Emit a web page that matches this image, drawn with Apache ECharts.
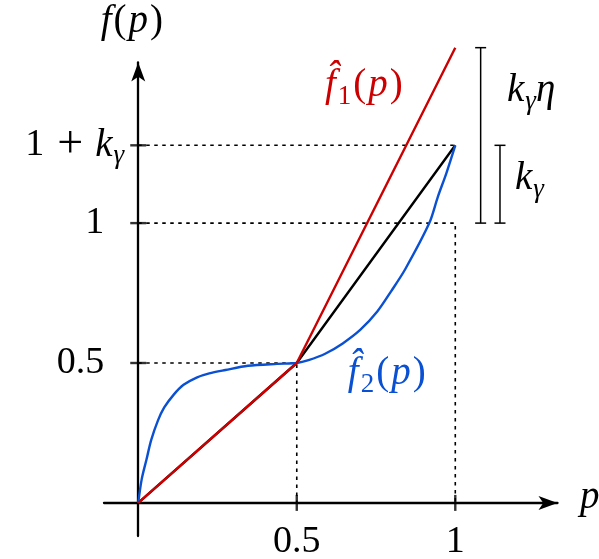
<!DOCTYPE html>
<html>
<head>
<meta charset="utf-8">
<script src="https://cdn.jsdelivr.net/npm/echarts@6/dist/echarts.min.js"></script>
<style>
html,body{margin:0;padding:0;background:#fff}
#main{width:599px;height:559px}
</style>
</head>
<body>
<div id="main"></div>
<script>
// values
var kGamma = 0.278;      // 1 + k_gamma tick
var kGammaEta = 0.627;   // red line rises 1 + k_gamma*eta at p = 1

var xTicks = [0.5, 1];
var xTickLabels = ['0.5', '1'];
var yTicks = [0.5, 1, 1 + kGamma];
var yTickLabels = ['{rp|0.5}', '{rp|1}', '{r|1}{pl|+}{m|k}{s|γ}'];

var linearPts = [[0, 0], [0.5, 0.5], [1, 1 + kGamma]];
var f1Pts = [[0, 0], [0.5, 0.5], [1, 1 + kGammaEta]];
var f2Pts = [
    [0, 0], [0.011, 0.085], [0.026, 0.155], [0.041, 0.225], [0.062, 0.294],
    [0.082, 0.341], [0.112, 0.387], [0.143, 0.422], [0.184, 0.448], [0.224, 0.463],
    [0.275, 0.475], [0.346, 0.490], [0.438, 0.497], [0.5, 0.5],
    [0.537, 0.510], [0.591, 0.534], [0.645, 0.570], [0.700, 0.618], [0.754, 0.684],
    [0.798, 0.757], [0.842, 0.835], [0.918, 1.0], [0.945, 1.094], [0.972, 1.179],
    [1, 1 + kGamma]
];

// dotted helper lines
var guides = [
    [[0, 1 + kGamma], [1, 1 + kGamma]],
    [[0, 1], [1, 1], [1, 0]],
    [[0, 0.5], [0.5, 0.5], [0.5, 0]]
];

// brackets: x, from, to
var brackets = [[1.080, 1, 1 + kGammaEta], [1.141, 1, 1 + kGamma]];

// text notes: x, y, text, colour, align
var notes = [
    [-0.017, 1.719, '{m|f}{q|(}{m|p}{q|)}', '#000', 'center'],
    [1.393, 0.019, '{m|p}', '#000', 'left'],
    [0.589, 1.490, '{m|f\u0302}{sn|1}{q|(}{m|p}{q|)}', '#cc0000', 'left'],
    [0.661, 0.461, '{m|f\u0302}{sn|2}{q|(}{m|p}{q|)}', '#0a50d2', 'left'],
    [1.163, 1.472, '{m|k}{s|γ}{m|η}', '#000', 'left'],
    [1.188, 1.158, '{m|k}{s|γ}', '#000', 'left']
];

var F = '"Liberation Serif"';
var rich = {
    m: {font: 'italic 39px ' + F, lineHeight: 46},
    r: {font: '38px ' + F, lineHeight: 46},
    q: {font: '39px ' + F, lineHeight: 46, padding: [0, 2, 0, 2]},
    pl: {font: '46px ' + F, lineHeight: 46, padding: [0, 12, 0, 13]},
    rp: {font: '38px ' + F, lineHeight: 46, padding: [0, 20, 0, 0]},
    s: {font: 'italic 27px ' + F, lineHeight: 20, padding: [22, 0, 0, 1]},
    sn: {font: '27px ' + F, lineHeight: 20, padding: [22, 0, 0, 2]}
};

var chart = echarts.init(document.getElementById('main'));

var dotted = {color: '#000', width: 1.6, type: [3.5, 4.5]};
var series = [];

guides.forEach(function (g) {
    series.push({
        type: 'line', data: g, symbol: 'none', clip: false, silent: true,
        lineStyle: dotted, z: 1
    });
});

series.push({
    type: 'line', name: 'linear', data: linearPts, symbol: 'none', clip: false,
    lineStyle: {color: '#000', width: 2.4}, z: 3
});
series.push({
    type: 'line', name: 'f2', data: f2Pts, symbol: 'none', clip: false,
    smooth: 0.3,
    lineStyle: {color: '#0a50d2', width: 2.4}, z: 4
});
series.push({
    type: 'line', name: 'f1', data: f1Pts, symbol: 'none', clip: false,
    lineStyle: {color: '#cc0000', width: 2.4}, z: 5
});

// tick marks crossing the axes
var tickData = [];
xTicks.forEach(function (v) { tickData.push({value: [v, 0], symbolSize: [2.4, 16]}); });
yTicks.forEach(function (v) { tickData.push({value: [0, v], symbolSize: [16, 2.4]}); });
series.push({
    type: 'scatter', data: tickData, symbol: 'rect', clip: false, silent: true,
    itemStyle: {color: '#000'}, z: 6
});

series.push({
    type: 'custom', data: brackets, clip: false, silent: true, z: 6,
    renderItem: function (params, api) {
        var a = api.coord([api.value(0), api.value(1)]);
        var b = api.coord([api.value(0), api.value(2)]);
        var st = {stroke: '#000', lineWidth: 1.5};
        var w = 5.5;
        return {
            type: 'group',
            children: [
                {type: 'line', shape: {x1: a[0], y1: a[1], x2: b[0], y2: b[1]}, style: st},
                {type: 'line', shape: {x1: a[0] - w, y1: a[1], x2: a[0] + w, y2: a[1]}, style: st},
                {type: 'line', shape: {x1: b[0] - w, y1: b[1], x2: b[0] + w, y2: b[1]}, style: st}
            ]
        };
    }
});

var axisLine = {
    onZero: true, symbol: ['none', 'arrow'], symbolSize: [10.5, 19],
    lineStyle: {color: '#000', width: 2.3}
};

chart.setOption({
    animation: false,
    grid: {left: 104, right: 41.5, top: 62.5, bottom: 23, containLabel: false, outerBoundsMode: 'none'},
    xAxis: {
        type: 'value', min: -0.108, max: 1.3224,
        splitLine: {show: false}, axisTick: {show: false}, axisLabel: {show: false},
        axisLine: axisLine
    },
    yAxis: {
        type: 'value', min: -0.1183, max: 1.574,
        splitLine: {show: false}, axisTick: {show: false}, axisLabel: {show: false},
        axisLine: axisLine
    },
    series: series
});

// all text drawn as graphic text, placed from data coordinates
function toPx(pt) {
    return chart.convertToPixel({gridIndex: 0}, pt);
}
var texts = [];
xTicks.forEach(function (v, i) {
    var p = toPx([v, 0]);
    texts.push({
        type: 'text', x: p[0], y: p[1] + 39, silent: true,
        style: {text: xTickLabels[i], font: '38px ' + F, fill: '#000', align: 'center', verticalAlign: 'middle'}
    });
});
yTicks.forEach(function (v, i) {
    var p = toPx([0, v]);
    texts.push({
        type: 'text', x: p[0] - 14, y: p[1], silent: true,
        style: {text: yTickLabels[i], rich: rich, fill: '#000', align: 'right', verticalAlign: 'middle'}
    });
});
notes.forEach(function (n) {
    var p = toPx([n[0], n[1]]);
    texts.push({
        type: 'text', x: p[0], y: p[1], silent: true, z: 10,
        style: {text: n[2], rich: rich, fill: n[3], align: n[4], verticalAlign: 'middle'}
    });
});
chart.setOption({graphic: texts});
</script>
</body>
</html>
